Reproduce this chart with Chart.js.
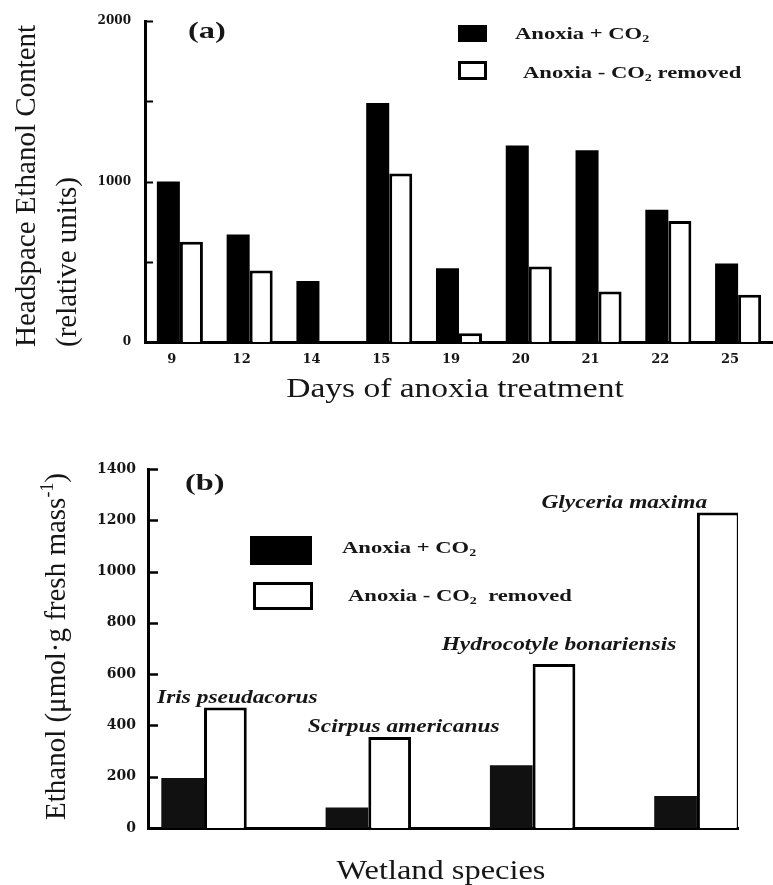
<!DOCTYPE html>
<html>
<head>
<meta charset="utf-8">
<script src="https://cdn.jsdelivr.net/npm/chart.js@4.4.1/dist/chart.umd.min.js"></script>
<style>
  html, body { margin: 0; padding: 0; background: #fff; }
  #wrap { position: relative; width: 773px; height: 885px; }
  #chartA { position: absolute; left: 0; top: 0; }
  #chartB { position: absolute; left: 0; top: 430px; }
</style>
</head>
<body>
<div id="wrap">
  <canvas id="chartA" width="773" height="430"></canvas>
  <canvas id="chartB" width="773" height="455"></canvas>
</div>
<script>
// (a) headspace ethanol over days of anoxia
const dayLabels = ['9', '12', '14', '15', '19', '20', '21', '22', '25'];
const headspaceWithCO2 = [1000, 670, 380, 1490, 460, 1225, 1195, 825, 490];
const headspaceCO2Removed = [625, 445, null, 1050, 55, 470, 315, 755, 295];
const headspaceLabelledTicks = [0, 1000, 2000];

// (b) tissue ethanol in four wetland species
const speciesNames = ['Iris pseudacorus', 'Scirpus americanus', 'Hydrocotyle bonariensis', 'Glyceria maxima'];
const speciesWithCO2 = [195, 80, 245, 125];
const speciesCO2Removed = [470, 355, 640, 1230];

const seriesNames = [['Anoxia + CO', ['2', 'sub']], ['Anoxia - CO', ['2', 'sub'], ' removed']];
const seriesNamesB = [['Anoxia + CO', ['2', 'sub']], ['Anoxia - CO', ['2', 'sub'], '  removed']];

const SERIF = "'Liberation Serif','Times New Roman',serif";
const TICK_FONT = 'DejaVu Serif';
const INK = '#161616';

// Draws a run of text pieces (plain, subscript, superscript) with optional
// horizontal stretch and rotation. (x, y) is the start (or centre) of the
// cap-height middle line.
function drawRich(ctx, parts, x, y, o) {
  const size = o.size;
  const font = s => `${o.style || 'normal'} ${o.weight || 'normal'} ${s}px ${SERIF}`;
  ctx.save();
  ctx.translate(x, y);
  if (o.rotate) ctx.rotate(o.rotate);
  ctx.scale(o.sx || 1, 1);
  let total = 0;
  const runs = parts.map(p => {
    const [text, kind] = Array.isArray(p) ? p : [p];
    const s = kind ? size * 0.62 : size;
    ctx.font = font(s);
    const w = ctx.measureText(text).width;
    total += w;
    return { text, kind, s, w };
  });
  let cx = o.align === 'center' ? -total / 2 : 0;
  const base = size * 0.34;
  ctx.fillStyle = o.color || INK;
  ctx.textBaseline = 'alphabetic';
  ctx.textAlign = 'left';
  for (const r of runs) {
    ctx.font = font(r.s);
    const dy = r.kind === 'sub' ? size * 0.2 : r.kind === 'sup' ? -size * 0.4 : 0;
    ctx.fillText(r.text, cx, base + dy);
    cx += r.w;
  }
  ctx.restore();
}

// Tick marks drawn on the inside of the value axis
function inwardTicks(len, width) {
  return {
    id: 'inwardTicks',
    afterDraw(chart) {
      const y = chart.scales.y;
      const ctx = chart.ctx;
      ctx.save();
      ctx.strokeStyle = '#000';
      ctx.lineWidth = width;
      y.ticks.forEach(t => {
        if (t.value === y.min) return;
        const py = Math.round(y.getPixelForValue(t.value)) + 0.5;
        ctx.beginPath();
        ctx.moveTo(y.right, py);
        ctx.lineTo(y.right + len, py);
        ctx.stroke();
      });
      ctx.restore();
    }
  };
}

function legendBoxes(ctx, black, white) {
  ctx.save();
  ctx.fillStyle = '#000';
  ctx.fillRect(black[0], black[1], black[2], black[3]);
  ctx.strokeStyle = '#000';
  ctx.lineWidth = 3;
  ctx.fillStyle = '#fff';
  ctx.fillRect(white[0], white[1], white[2], white[3]);
  ctx.strokeRect(white[0] + 1.5, white[1] + 1.5, white[2] - 3, white[3] - 3);
  ctx.restore();
}

const annotateA = {
  id: 'annotateA',
  afterDraw(chart) {
    const ctx = chart.ctx;
    drawRich(ctx, ['(a)'], 188, 30, { size: 24, weight: 'bold', sx: 1.35 });
    legendBoxes(ctx, [458, 25, 29, 17], [458, 61, 29, 19]);
    drawRich(ctx, seriesNames[0], 515, 33, { size: 17, weight: 'bold', sx: 1.33 });
    drawRich(ctx, seriesNames[1], 523, 72, { size: 17, weight: 'bold', sx: 1.33 });
    drawRich(ctx, ['Days of anoxia treatment'], 455, 388, { size: 27, sx: 1.24, align: 'center' });
    drawRich(ctx, ['Headspace Ethanol Content'], 25, 347, { size: 29, rotate: -Math.PI / 2 });
    drawRich(ctx, ['(relative units)'], 66, 347, { size: 29, rotate: -Math.PI / 2 });
  }
};

// label placement for each species name, relative to the CO2-removed bar
const speciesLabelShift = [[12, 11], [14, 11], [5, 20], [-94, 11]];

const annotateB = {
  id: 'annotateB',
  afterDraw(chart) {
    const ctx = chart.ctx;
    drawRich(ctx, ['(b)'], 185, 52, { size: 24, weight: 'bold', sx: 1.35 });
    legendBoxes(ctx, [250, 106, 62, 29], [253, 152, 60, 28]);
    drawRich(ctx, seriesNamesB[0], 342, 117, { size: 17, weight: 'bold', sx: 1.33 });
    drawRich(ctx, seriesNamesB[1], 348, 165, { size: 17, weight: 'bold', sx: 1.33 });
    drawRich(ctx, ['Wetland species'], 441, 440, { size: 27, sx: 1.2, align: 'center' });
    drawRich(ctx, ['Ethanol (\u03bcmol\u00b7g fresh mass', ['-1', 'sup'], ')'], 55, 390,
      { size: 29, rotate: -Math.PI / 2 });
    const bars = chart.getDatasetMeta(1).data;
    speciesNames.forEach((name, i) => {
      const b = bars[i];
      const [dx, dy] = speciesLabelShift[i];
      drawRich(ctx, [name], b.x + dx, b.y - dy,
        { size: 18, weight: 'bold', style: 'italic', sx: 1.3, align: 'center' });
    });
  }
};

const axisBorder = { display: true, color: '#000', width: 3 };

new Chart(document.getElementById('chartA'), {
  type: 'bar',
  data: {
    labels: dayLabels,
    datasets: [
      { label: 'Anoxia + CO2', data: headspaceWithCO2, backgroundColor: '#000', borderWidth: 0 },
      { label: 'Anoxia - CO2 removed', data: headspaceCO2Removed, backgroundColor: '#fff',
        borderColor: '#000', borderWidth: 3 }
    ]
  },
  options: {
    responsive: false,
    animation: false,
    datasets: { bar: { categoryPercentage: 0.66, barPercentage: 1 } },
    layout: { padding: { top: 20, right: 0, left: 0, bottom: 0 } },
    plugins: { legend: { display: false }, tooltip: { enabled: false } },
    scales: {
      x: {
        grid: { display: false, drawTicks: false },
        border: axisBorder,
        ticks: {
          color: INK, padding: 10, labelOffset: -8, autoSkip: false, maxRotation: 0,
          font: { family: TICK_FONT, weight: 'bold', size: 13 }
        },
        afterFit(s) { s.height = 430 - 342; }
      },
      y: {
        min: 0, max: 2000,
        grid: { display: false, drawTicks: false },
        border: axisBorder,
        ticks: {
          stepSize: 500, color: INK, padding: 14,
          font: { family: TICK_FONT, weight: 'bold', size: 12 },
          callback: v => headspaceLabelledTicks.includes(v) ? String(v) : ''
        },
        afterFit(s) { s.width = 145; }
      }
    }
  },
  plugins: [inwardTicks(8, 2), annotateA]
});

new Chart(document.getElementById('chartB'), {
  type: 'bar',
  data: {
    datasets: [
      { label: 'Anoxia + CO2', data: speciesWithCO2.map((v, i) => ({ x: i + 1, y: v })),
        backgroundColor: '#111', borderWidth: 0 },
      { label: 'Anoxia - CO2 removed', data: speciesCO2Removed.map((v, i) => ({ x: i + 1, y: v })),
        backgroundColor: '#fff', borderColor: '#000', borderWidth: 3 }
    ]
  },
  options: {
    responsive: false,
    animation: false,
    datasets: { bar: { categoryPercentage: 0.52, barPercentage: 1 } },
    layout: { padding: { top: 39, right: 35, left: 0, bottom: 0 } },
    plugins: { legend: { display: false }, tooltip: { enabled: false } },
    scales: {
      x: {
        type: 'linear', offset: false, min: 0.659, max: 4.25,
        grid: { display: false, drawTicks: false },
        border: axisBorder,
        ticks: { display: false },
        afterBuildTicks(s) { s.ticks = speciesNames.map((n, i) => ({ value: i + 1 })); },
        afterFit(s) { s.height = 455 - 398; }
      },
      y: {
        min: 0, max: 1400,
        grid: { display: false, drawTicks: false },
        border: axisBorder,
        ticks: {
          stepSize: 200, color: INK, padding: 12,
          font: { family: TICK_FONT, weight: 'bold', size: 14 },
          callback: v => String(v)
        },
        afterFit(s) { s.width = 148; }
      }
    }
  },
  plugins: [inwardTicks(10, 2.5), annotateB]
});
</script>
</body>
</html>
